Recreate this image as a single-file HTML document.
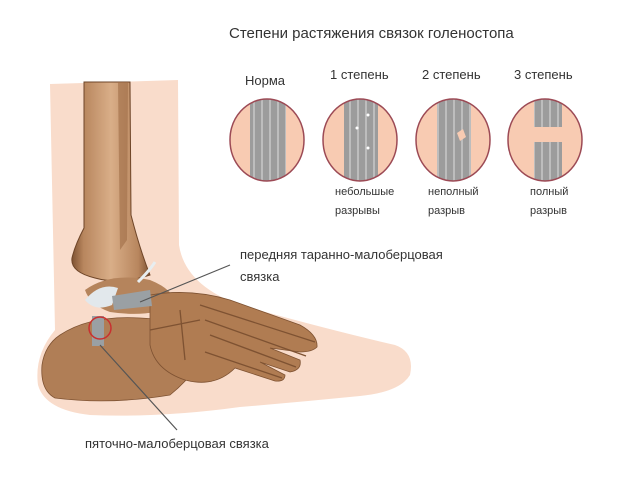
<!DOCTYPE html>
<html><head><meta charset="utf-8"><style>
html,body{margin:0;padding:0;background:#fff;}
svg{display:block}
text{font-family:"Liberation Sans",sans-serif;fill:#333}
</style></head><body>
<svg width="640" height="480" viewBox="0 0 640 480" xmlns="http://www.w3.org/2000/svg">
<defs>
<linearGradient id="bone" x1="0" x2="1">
<stop offset="0" stop-color="#7e5232"/><stop offset="0.15" stop-color="#b8865e"/><stop offset="0.5" stop-color="#d9ae88"/><stop offset="0.85" stop-color="#b8865e"/><stop offset="1" stop-color="#7e5232"/>
</linearGradient>
<clipPath id="c1"><ellipse cx="267" cy="140" rx="37" ry="41"/></clipPath>
<clipPath id="c2"><ellipse cx="360" cy="140" rx="37" ry="41"/></clipPath>
<clipPath id="c3"><ellipse cx="453" cy="140" rx="37" ry="41"/></clipPath>
<clipPath id="c4"><ellipse cx="545" cy="140" rx="37" ry="41"/></clipPath>
<pattern id="fib" width="8" height="10" patternUnits="userSpaceOnUse">
<rect width="8" height="10" fill="#9c9c9c"/><rect x="5" width="2" height="10" fill="#bdbdbd"/>
</pattern>
</defs>
<!-- skin -->
<path d="M50 84 L178 80 L179 245 Q185 285 240 305 Q330 330 395 345 Q415 352 410 375 Q400 392 360 396 Q300 402 240 407 Q160 418 90 415 Q45 410 38 385 Q34 355 55 330 Z" fill="#f9dccb"/>
<!-- tibia -->
<path d="M84 82 L130 82 L131 215 Q140 250 150 275 Q120 285 95 278 Q70 272 72 258 Q75 245 84 228 Z" fill="url(#bone)"/>
<path d="M84 82 L130 82 L131 215 Q140 250 150 275 Q120 285 95 278 Q70 272 72 258 Q75 245 84 228 Z" fill="none" stroke="#6e4528" stroke-width="1"/>
<path d="M118 82 L128 82 L127 240 L120 250 Z" fill="#9e6c46" opacity="0.6"/>
<!-- talus -->
<path d="M85 290 Q110 272 150 280 Q175 290 175 305 Q150 318 110 312 Q90 305 85 290Z" fill="#b5845c"/>
<!-- calcaneus -->
<path d="M60 335 Q90 315 140 318 Q190 320 210 345 Q195 375 170 395 Q110 405 55 398 Q40 390 42 365 Q45 345 60 335 Z" fill="#b07e56" stroke="#7e5232" stroke-width="0.8"/>
<!-- midfoot -->
<path d="M150 295 Q190 288 230 300 L300 325 Q318 335 317 347 Q312 352 300 352 L270 348 L300 360 Q302 370 290 372 L260 362 L285 375 Q285 382 275 381 L235 368 Q215 388 185 380 Q155 370 150 345 Z" fill="#b07c52" stroke="#7e5232" stroke-width="0.8"/>
<path d="M200 305 L315 342 M205 320 L306 356 M210 335 L296 367 M205 352 L282 378 M180 310 L185 360 M150 330 L200 320" stroke="#7e5232" stroke-width="1.3" fill="none"/>
<!-- ligaments -->
<path d="M85 300 Q100 282 118 288 L112 305 Q95 312 85 300Z" fill="#e2e8ec"/>
<path d="M138 282 Q150 270 155 262" stroke="#e8eef0" stroke-width="3" fill="none"/>
<path d="M112 296 L150 290 L152 306 L114 310 Z" fill="#9aa0a4"/>
<rect x="92" y="316" width="12" height="30" fill="#9aa0a4"/>
<circle cx="100" cy="328" r="11" fill="none" stroke="#c83030" stroke-width="1.5"/>
<line x1="140" y1="302" x2="230" y2="265" stroke="#555" stroke-width="1.2"/>
<line x1="100" y1="345" x2="177" y2="430" stroke="#555" stroke-width="1.2"/>
<!-- title -->
<text x="229" y="38" font-size="15">Степени растяжения связок голеностопа</text>
<text x="245" y="85" font-size="13">Норма</text>
<text x="330" y="79" font-size="13">1 степень</text>
<text x="422" y="79" font-size="13">2 степень</text>
<text x="514" y="79" font-size="13">3 степень</text>
<!-- circles -->
<ellipse cx="267" cy="140" rx="37" ry="41" fill="#f8cbb2"/>
<rect x="250" y="95" width="36" height="90" fill="url(#fib)" clip-path="url(#c1)"/>
<ellipse cx="267" cy="140" rx="37" ry="41" fill="none" stroke="#9c4a55" stroke-width="1.5"/>
<ellipse cx="360" cy="140" rx="37" ry="41" fill="#f8cbb2"/>
<rect x="344" y="95" width="34" height="90" fill="url(#fib)" clip-path="url(#c2)"/>
<circle cx="368" cy="115" r="1.5" fill="#fff"/><circle cx="357" cy="128" r="1.5" fill="#fff"/><circle cx="368" cy="148" r="1.5" fill="#fff"/>
<ellipse cx="360" cy="140" rx="37" ry="41" fill="none" stroke="#9c4a55" stroke-width="1.5"/>
<ellipse cx="453" cy="140" rx="37" ry="41" fill="#f8cbb2"/>
<rect x="437" y="95" width="34" height="90" fill="url(#fib)" clip-path="url(#c3)"/>
<path d="M457 133 L463 129 L466 137 L460 141 Z" fill="#f8cbb2"/>
<ellipse cx="453" cy="140" rx="37" ry="41" fill="none" stroke="#9c4a55" stroke-width="1.5"/>
<ellipse cx="545" cy="140" rx="37" ry="41" fill="#f8cbb2"/>
<rect x="534" y="95" width="28" height="32" fill="url(#fib)" clip-path="url(#c4)"/>
<rect x="534" y="142" width="28" height="45" fill="url(#fib)" clip-path="url(#c4)"/>
<ellipse cx="545" cy="140" rx="37" ry="41" fill="none" stroke="#9c4a55" stroke-width="1.5"/>
<text x="335" y="195" font-size="11">небольшые</text><text x="335" y="214" font-size="11">разрывы</text>
<text x="428" y="195" font-size="11">неполный</text><text x="428" y="214" font-size="11">разрыв</text>
<text x="530" y="195" font-size="11">полный</text><text x="530" y="214" font-size="11">разрыв</text>
<text x="240" y="259" font-size="13">передняя таранно-малоберцовая</text>
<text x="240" y="281" font-size="13">связка</text>
<text x="85" y="448" font-size="13">пяточно-малоберцовая связка</text>
</svg>
</body></html>
